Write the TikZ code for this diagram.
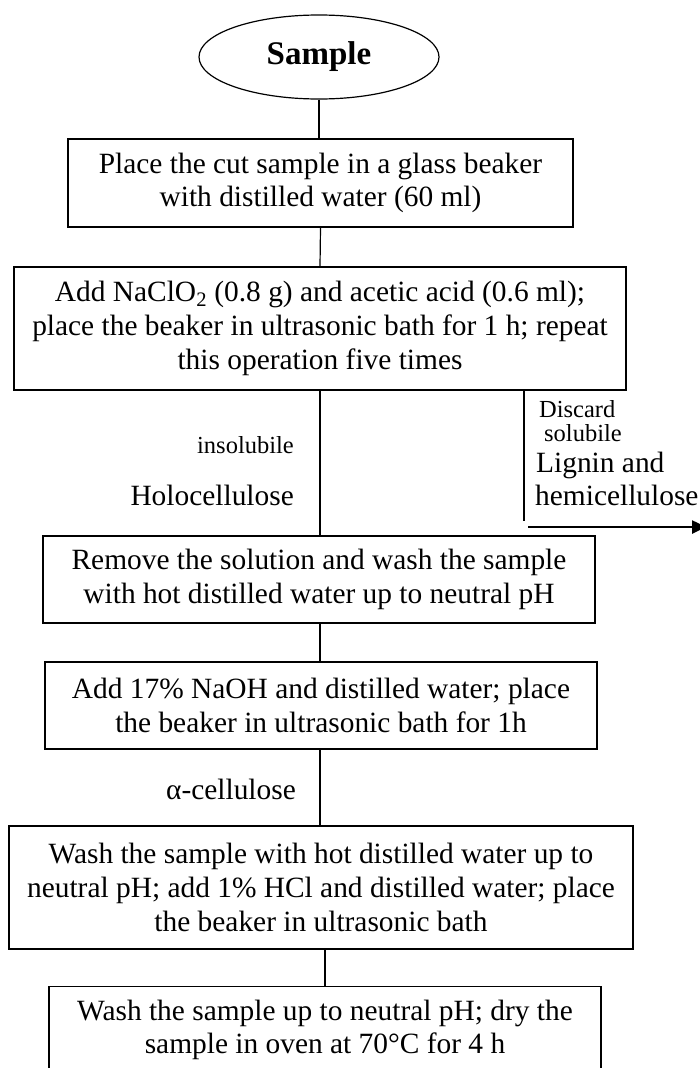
\documentclass[tikz,border=0pt]{standalone}
\usepackage{fontspec}
\setmainfont{Liberation Serif}
\usetikzlibrary{shapes.geometric,arrows.meta}
\newcommand\mybxfont{\fontsize{29.4}{33.8}\selectfont}
\newcommand\mysmfont{\fontsize{24.5}{27}\selectfont}
\begin{document}
\begin{tikzpicture}[x=1pt,y=-1pt,
  stepbox/.style={draw, line width=1.2pt, align=center, inner sep=0pt, font=\mybxfont},
  startnode/.style={draw, ellipse, line width=1.2pt, inner sep=0pt, minimum width=240pt, minimum height=84pt, font=\fontsize{33}{38}\selectfont\bfseries},
  conn/.style={line width=1.2pt},
  biglbl/.style={inner sep=0pt, font=\mybxfont},
  smlbl/.style={inner sep=0pt, font=\mysmfont}]
\useasboundingbox (0,0) rectangle (699,1068);

\node[startnode] (s) at (319,57) {Sample};
\node[stepbox, minimum width=505pt, minimum height=88pt] (b1) at (320.5,183)
  {Place the cut sample in a glass beaker\\with distilled water (60 ml)};
\node[stepbox, minimum width=612pt, minimum height=123pt] (b2) at (320,328.5)
  {Add NaClO\textsubscript{2} (0.8 g) and acetic acid (0.6 ml);\\place the beaker in ultrasonic bath for 1 h; repeat\\this operation five times};
\node[stepbox, minimum width=552pt, minimum height=87pt] (b3) at (319,579.5)
  {Remove the solution and wash the sample\\with hot distilled water up to neutral pH};
\node[stepbox, minimum width=552pt, minimum height=87pt] (b4) at (321,705.5)
  {Add 17\% NaOH and distilled water; place\\the beaker in ultrasonic bath for 1h};
\node[stepbox, minimum width=624pt, minimum height=123pt] (b5) at (321,887.5)
  {Wash the sample with hot distilled water up to\\neutral pH; add 1\% HCl and distilled water; place\\the beaker in ultrasonic bath};
\node[stepbox, minimum width=552pt, minimum height=87pt] (b6) at (325,1030)
  {Wash the sample up to neutral pH; dry the\\sample in oven at 70°C for 4 h};

% side labels
\node[smlbl, anchor=base east] (linsol) at (294,453) {insolubile};
\node[biglbl, anchor=base east] (lholo) at (294,505) {Holocellulose};
\node[biglbl, anchor=base east] (lalpha) at (296,799) {α-cellulose};
\node[smlbl, anchor=base west] (ldisc) at (539,417) {Discard};
\node[smlbl, anchor=base west] (lsolub) at (544,441) {solubile};
\node[biglbl, anchor=base west] (llig) at (536,472) {Lignin and};
\node[biglbl, anchor=base west] (lhemi) at (535,505) {hemicellulose};

% connectors
\draw[conn] (s.south) -- (s.south |- b1.north);
\draw[conn] (b1.south) -- (b2.north);
\draw[conn] (b2.south) -- (b2.south |- b3.north);
\draw[conn] (b3.south -| b2.south) -- (b2.south |- b4.north);
\draw[conn] (b4.south -| b2.south) -- (b2.south |- b5.north);
\draw[conn] (b5.south -| b6.north) -- (b6.north);

\coordinate (dtop) at (524,390);
\coordinate (dend) at (524,521);
\coordinate (astart) at (528,527);
\coordinate (aend) at (706,527);
\draw[conn] (b2.south -| dtop) -- (dend);
\draw[line width=2.5pt, -{Triangle[length=14pt,width=13pt]}] (astart) -- (aend);
\end{tikzpicture}
\end{document}
